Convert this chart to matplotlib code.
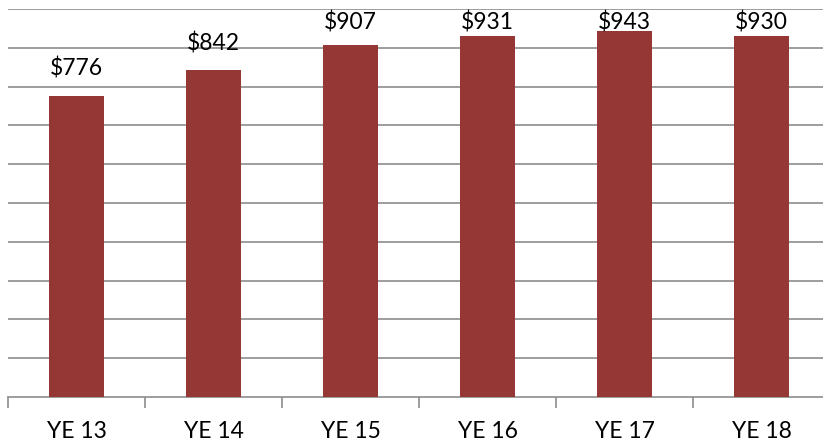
import matplotlib.pyplot as plt
import numpy as np

# data
years = ['YE 13', 'YE 14', 'YE 15', 'YE 16', 'YE 17', 'YE 18']
values = [776, 842, 907, 931, 943, 930]

bar_color = '#953735'
grid_color = '#8c8c8c'

fig = plt.figure(figsize=(8.23, 4.42), dpi=100)
# plot area runs slightly past the right edge of the picture, like the original
ax = fig.add_axes([8 / 823, 45 / 442, 822 / 823, 388 / 442])

x = np.arange(len(years))
ax.bar(x, values, width=0.4, color=bar_color, zorder=3)

ax.set_xlim(-0.5, len(years) - 0.5)
ax.set_ylim(0, 1000)

# horizontal gridlines every 100
for gy in range(100, 1001, 100):
    ax.axhline(gy, color=grid_color, linewidth=1.2, zorder=1)

# value labels, kept inside the plot area at the top
for xi, v in zip(x, values):
    ly = min(v + 52, 947)
    ax.text(xi, ly, '$%d' % v, ha='center', va='baseline',
            fontsize=16.5, family='Lato', color='black', zorder=4)

for side in ['left', 'right', 'top']:
    ax.spines[side].set_visible(False)
ax.spines['bottom'].set_color(grid_color)
ax.spines['bottom'].set_linewidth(1.2)
ax.spines['bottom'].set_zorder(2)

ax.set_yticks([])
ax.set_xticks(x)
ax.set_xticklabels(years, fontsize=16.5, family='Lato')
ax.tick_params(axis='x', which='major', length=0, pad=17)
ax.set_xticks(np.arange(-0.5, len(years), 1), minor=True)
ax.tick_params(axis='x', which='minor', length=8, width=1.2, color=grid_color,
               direction='out')

fig.savefig('out.png', dpi=100)
